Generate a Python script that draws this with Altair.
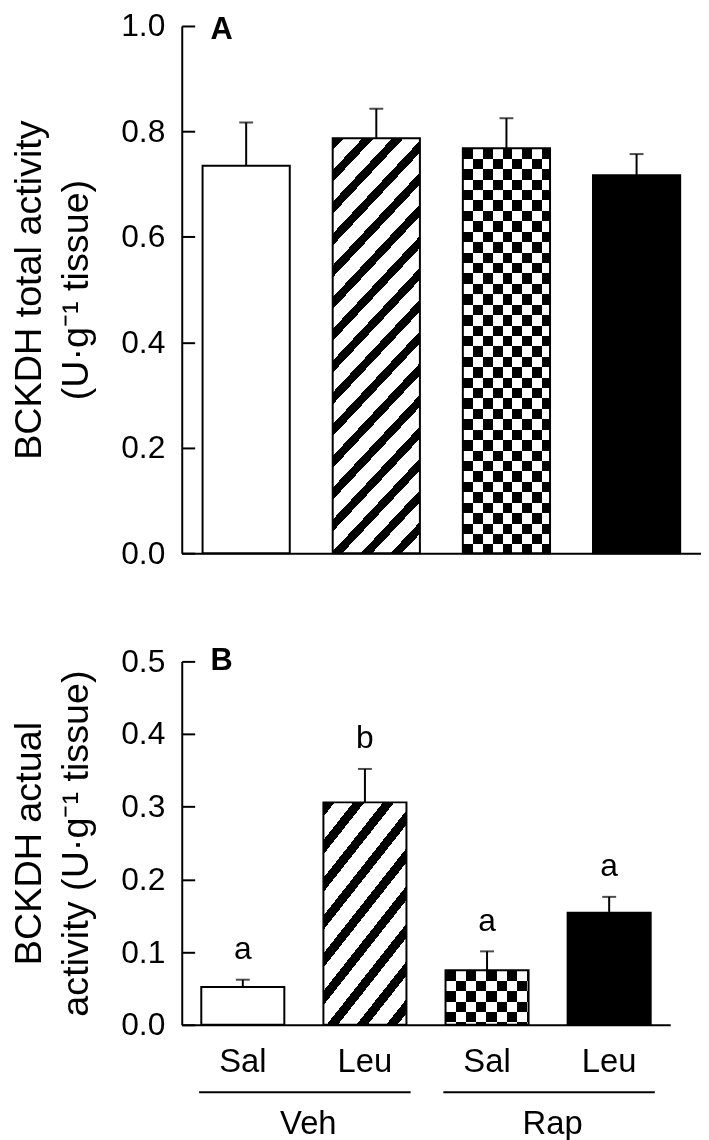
import altair as alt
import pandas as pd

categories = ["Veh|Sal", "Veh|Leu", "Rap|Sal", "Rap|Leu"]
total_mean = [0.735, 0.787, 0.768, 0.717]
total_sem = [0.082, 0.056, 0.057, 0.040]
actual_mean = [0.052, 0.306, 0.075, 0.154]
actual_sem = [0.010, 0.046, 0.026, 0.022]
actual_letters = ["a", "b", "a", "a"]
a_ticks = [0.0, 0.2, 0.4, 0.6, 0.8, 1.0]
b_ticks = [0.0, 0.1, 0.2, 0.3, 0.4, 0.5]
groups = ["Veh", "Rap"]
group_first = ["Veh|Sal", "Rap|Sal"]
group_last = ["Veh|Leu", "Rap|Leu"]
panel_labels = ["A", "B"]
title_a = ["BCKDH total activity", "(U·g⁻¹ tissue)"]
title_b = ["BCKDH actual", "activity (U·g⁻¹ tissue)"]

FONT = "Liberation Sans"


def band_stops(period, frac, on, off):
    stops = []
    k = 0
    while k * period < 1:
        o1 = k * period
        o2 = min((k + frac) * period, 1.0)
        o3 = min((k + 1) * period, 1.0)
        stops += [alt.GradientStop(offset=o1, color=on), alt.GradientStop(offset=o2, color=on),
                  alt.GradientStop(offset=o2, color=off), alt.GradientStop(offset=o3, color=off)]
        k += 1
    return stops


def diag_gradient(w, h, px, py, frac):
    n = w / px + h / py
    s = n / (w * w / (px * px) + h * h / (py * py))
    a = w / px * s
    b = h / py * s
    return alt.LinearGradient(gradient="linear", x1=0, y1=0, x2=a, y2=b,
                              stops=band_stops(1.0 / n, frac, "black", "white"))


def vert_gradient(w, cw):
    return alt.LinearGradient(gradient="linear", x1=0, y1=0, x2=1, y2=0,
                              stops=band_stops(2 * cw / w, 0.5, "black", "white"))


def horiz_gradient(h, rh):
    return alt.LinearGradient(gradient="linear", x1=0, y1=0, x2=0, y2=1,
                              stops=band_stops(2 * rh / h, 0.5, "rgba(255,255,255,0)", "white"))


def panel(mean, sem, ymax, ticks, width, height, pi, po, title, label, label_y,
          stripe_px, stripe_py, cell_w, cell_h, bottom):
    df = pd.DataFrame({"key": categories, "idx": list(range(4)), "mean": mean, "sem": sem})
    band = width / (4 - pi + 2 * po) * (1 - pi)
    hpx = [m / ymax * height for m in mean]

    if bottom:
        xaxis = alt.Axis(title=None, ticks=False, labelExpr="split(datum.label, '|')[1]",
                         labelFontSize=33, labelPadding=21, labelAngle=0,
                         domainColor="black", domainWidth=2, labelColor="black")
    else:
        xaxis = alt.Axis(title=None, ticks=False, labels=False,
                         domainColor="black", domainWidth=2)
    yaxis = alt.Axis(values=ticks, format=".1f", title=title, grid=False,
                     tickSize=alt.ExprRef("-13"), tickWidth=2, tickColor="black",
                     domainColor="black", domainWidth=2,
                     labelFontSize=32, labelColor="black", labelPadding=30,
                     titleFontSize=38, titleFontWeight="normal", titleColor="black",
                     titleLineHeight=48, titlePadding=25)
    x = alt.X("key:N", sort=categories, scale=alt.Scale(paddingInner=pi, paddingOuter=po), axis=xaxis)
    y = alt.Y("mean:Q", scale=alt.Scale(domain=[0, ymax], nice=False), axis=yaxis)

    base = alt.Chart(df).encode(x=x, y=y)
    white = base.transform_filter("datum.idx == 0").mark_bar(fill="white", stroke="black", strokeWidth=2)
    stripes = base.transform_filter("datum.idx == 1").mark_bar(
        fill=diag_gradient(band, hpx[1], stripe_px, stripe_py, 0.38), stroke="black", strokeWidth=2)
    check_base = base.transform_filter("datum.idx == 2").mark_bar(
        fill=vert_gradient(band, cell_w), strokeWidth=0)
    check_over = base.transform_filter("datum.idx == 2").mark_bar(
        fill=horiz_gradient(hpx[2], cell_h), strokeWidth=0, blend="difference")
    check_line = base.transform_filter("datum.idx == 2").mark_bar(
        fill="transparent", stroke="black", strokeWidth=2)
    black = base.transform_filter("datum.idx == 3").mark_bar(fill="black", stroke="black", strokeWidth=2)
    err = base.transform_calculate(top="datum.mean + datum.sem").mark_rule(
        color="black", strokeWidth=2).encode(y2="top:Q")
    cap = base.transform_calculate(mean="datum.mean + datum.sem").mark_tick(
        color="black", thickness=2, size=14, orient="horizontal")
    lab = alt.Chart(pd.DataFrame({"label": [label]})).mark_text(
        font=FONT, fontSize=31, fontWeight="bold", align="left", baseline="middle", color="black"
    ).encode(x=alt.value(29), y=alt.value(label_y), text="label:N")

    layers = [white, stripes, check_base, check_over, check_line, black, err, cap, lab]
    if bottom:
        df_l = df.assign(letter=actual_letters)
        letters = alt.Chart(df_l).transform_calculate(mean="datum.mean + datum.sem").mark_text(
            font=FONT, fontSize=32, baseline="alphabetic", dy=-21, color="black"
        ).encode(x=x, y=y, text="letter:N")
        gdf = pd.DataFrame({"key": group_first, "key2": group_last, "group": groups})
        gline = alt.Chart(gdf).mark_rule(color="black", strokeWidth=2, xOffset=-44, x2Offset=46).encode(
            x=x, x2="key2:N", y=alt.value(434))
        gtext = alt.Chart(gdf).mark_text(font=FONT, fontSize=33, baseline="alphabetic", dx=66,
                                         color="black").encode(x=x, y=alt.value(476), text="group:N")
        layers += [letters, gline, gtext]
    return alt.layer(*layers).properties(width=width, height=height)


panel_a = panel(total_mean, total_sem, 1.0, a_ticks, 523, 531, 0.33, 0.16, title_a, panel_labels[0], 4,
                30, 32, 10, 10.5, False)
panel_b = panel(actual_mean, actual_sem, 0.5, b_ticks, 492, 366, 0.32, 0.16, title_b, panel_labels[1], 0,
                30, 38, 10.3, 10.5, True)

chart = alt.vconcat(panel_a, panel_b, spacing=77).properties(
    padding={"left": 2, "top": -2, "right": 0, "bottom": 0}
).configure(font=FONT).configure_view(
    stroke="transparent", strokeWidth=0
).configure_axis(labelFont=FONT, titleFont=FONT)

chart.save("out.html", embed_options={"renderer": "svg", "actions": False})
